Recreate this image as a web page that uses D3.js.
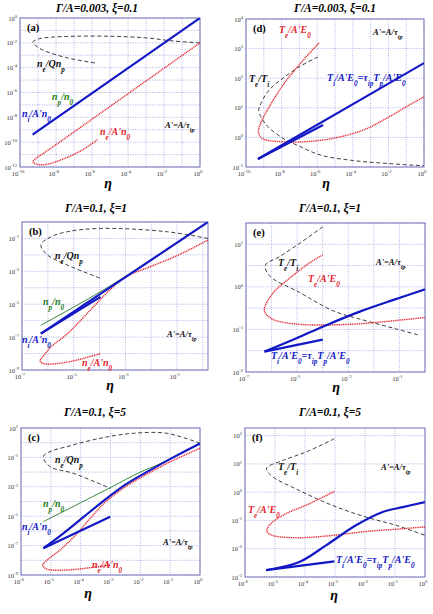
<!DOCTYPE html>
<html><head><meta charset="utf-8">
<script src="https://cdn.jsdelivr.net/npm/d3@7"></script>
<style>
body{margin:0;background:#fff}
svg{font-family:"Liberation Serif","DejaVu Serif",serif}
</style></head><body><div id="fig"></div>
<script>
const width = 433, height = 614;

// all curves: [log10(eta), log10(quantity)]
// (a)  Gamma/A=0.003, xi=0.1
const aNi   = [[-9.3,-9.4],[0,0]];
const aNe   = [[0,-2.0],[-2,-4.05],[-4,-6.1],[-6,-8.15],[-8,-10.2],[-8.8,-11.0],[-9.15,-11.35],[-9.28,-11.6],[-9.05,-11.78],[-8.5,-11.78],[-7.5,-11.3],[-6.5,-10.6],[-5.7,-9.8]];
const aNeQ  = [[0,-2.0],[-1.5,-1.85],[-3,-1.6],[-5,-1.47],[-7,-1.47],[-8.3,-1.55],[-9.0,-1.7],[-9.28,-1.95],[-9.1,-2.25],[-8.7,-2.6],[-7.4,-3.2],[-5.7,-3.65]];
// (d)
const dTi   = [[-9.33,-0.73],[0,2.51]];
const dTiS  = [[-9.33,-0.73],[-5.67,0.42]];
const dTe   = [[-5.9,3.19],[-7.02,2.45],[-7.92,1.77],[-8.7,1.03],[-9.16,0.5],[-9.3,0.2],[-9.1,-0.03],[-7.92,-0.15],[-6.8,-0.15],[-5.1,-0.03],[-3.4,0.25],[-1.97,0.69],[-0.84,1.09],[0,1.37]];
const dTeTi = [[-5.96,2.72],[-7.02,2.38],[-7.92,2.0],[-8.7,1.6],[-9.16,1.15],[-9.28,0.9],[-8.9,0.45],[-8.0,0.0],[-7.0,-0.3],[-5.8,-0.6],[-4.0,-0.78],[-2.08,-0.88],[-0.2,-0.95],[0,-0.95]];
// (b)  Gamma/A=0.1, xi=1
const bNi   = [[-6.27,-6.79],[0.2,0]];
const bNiS  = [[-6.27,-6.79],[-3.96,-4.55]];
const bNp   = [[-6.27,-6.28],[-3.6,-3.9],[0.2,0]];
const bNe   = [[0.2,-1.1],[-1,-2.05],[-2.04,-2.72],[-3.0,-3.34],[-3.58,-4.1],[-4.6,-5.77],[-5.24,-6.79],[-5.88,-7.6],[-6.2,-8.21],[-6.3,-8.45],[-6.14,-8.62],[-5.24,-8.52],[-3.96,-8.0]];
const bNeQ  = [[0.2,-1.0],[-1.4,-0.59],[-3.96,-0.39],[-5.24,-0.59],[-5.88,-0.9],[-6.27,-1.4],[-6.01,-2.01],[-5.24,-2.62],[-3.96,-3.43]];
// (e)
const eTi   = [[-6.28,-1.52],[-5,-1.2],[-3.86,-0.9],[-2.5,-0.57],[-1.2,-0.3],[0,-0.06]];
const eTiS  = [[-6.28,-1.52],[-4.0,-1.24]];
const eTe   = [[-4.0,0.75],[-4.52,0.56],[-5.3,0.2],[-5.95,-0.15],[-6.28,-0.56],[-5.95,-0.76],[-4.91,-0.88],[-2.95,-0.88],[-1.64,-0.82],[0,-0.72]];
const eTeTi = [[-4.0,1.41],[-4.91,1.02],[-5.69,0.71],[-6.24,0.51],[-6.08,0.26],[-4.91,-0.13],[-3.6,-0.56],[-2.29,-0.8],[-1.12,-0.99],[-0.2,-1.14]];
// (c)  Gamma/A=0.1, xi=5
const cNi   = [[-5.25,-7.18],[-4.6,-6.2],[-3.9,-5.05],[-3.2,-3.9],[-2.5,-2.85],[-1.7,-1.9],[-0.9,-1.0],[0,-0.05]];
const cNiS  = [[-5.25,-7.18],[-3.01,-5.03]];
const cNp   = [[-5.25,-5.37],[-3,-3.05],[-2,-2.0],[-1.3,-1.4],[0,-0.05]];
const cNe   = [[0,-0.38],[-0.9,-1.2],[-1.7,-2.05],[-2.5,-3.0],[-3.2,-4.1],[-3.7,-5.2],[-4.2,-6.35],[-4.69,-7.3],[-5.1,-7.95],[-5.27,-8.32],[-5.14,-8.59],[-4.47,-8.66],[-3.01,-8.32]];
const cNeQ  = [[0,-0.04],[-1.11,0.64],[-2.23,0.64],[-3.35,0.3],[-4.47,-0.27],[-5.03,-0.61],[-5.25,-0.95],[-5.03,-1.63],[-4.25,-2.08],[-3.01,-3.1]];
// (f)
const fTi   = [[-5.3,-2.76],[-4.19,-2.47],[-3.3,-1.88],[-2.3,-1.17],[-1.41,-0.7],[-0.74,-0.53],[0,-0.35]];
const fTiS  = [[-5.3,-2.76],[-3.02,-2.45]];
const fTe   = [[-3.02,0.03],[-3.86,-0.41],[-4.74,-0.82],[-5.19,-1.17],[-5.27,-1.39],[-5.08,-1.53],[-4.19,-1.61],[-3.08,-1.53],[-1.97,-1.39],[-0.97,-1.31],[0,-1.23]];
const fTeTi = [[-3.02,1.89],[-3.97,1.42],[-4.74,1.12],[-5.28,0.85],[-5.13,0.59],[-4.19,0.06],[-3.08,-0.47],[-1.97,-0.88],[-0.97,-1.17],[0,-1.53]];

// tick exponents
const aXLab = [-10,-8,-6,-4,-2,0], aYLab = [-12,-10,-8,-6,-4,-2,0];
const dYLab = [-1,0,1,2,3,4];
const bXLab = [-7,-5,-3,-1], bYLab = [-9,-7,-5,-3,-1];
const eYLab = [-2,-1,0,1];
const cXLab = [-6,-5,-4,-3,-2,-1,0], cYLab = [-9,-7,-5,-3,-1,1];
const fYLab = [-3,-2,-1,0,1,2];

const titles = ["\u0393/A=0.003, \u03be=0.1", "\u0393/A=0.1, \u03be=1", "\u0393/A=0.1, \u03be=5"];

const col = {blue:"#1218c4", red:"#e3262e", green:"#237a23", black:"#111"};
const styles = {
  blue:  {stroke:col.blue, w:2.2},
  red:   {stroke:col.red, w:1.4, dash:"1.1,0.7"},
  green: {stroke:col.green, w:0.9},
  dash:  {stroke:col.black, w:0.8, dash:"4,2.6"}
};

const panels = [
  {tag:"(a)", box:[20,200,18,167], x:[-10,0], y:[-12,0], xLab:aXLab, yLab:aYLab, xStep:1, yStep:1, title:titles[0], tx:97, ty:12, ex:108, ey:188,
   curves:[[aNeQ,"dash"],[aNe,"red"],[aNi,"blue"]],
   labels:[["n_{e}/Qn_{p}",37,67,"black",10],["n_{p}/n_{0}",52,100,"green",10],["n_{i}/A'n_{0}",22,117,"blue",10],["n_{e}/A'n_{0}",100,135,"red",10],["A'=A/\u03c4_{ip}",165,128,"black",8.5]]},
  {tag:"(d)", box:[246,424,19,167], x:[-10,0], y:[-1,4], xLab:aXLab, yLab:dYLab, xStep:1, yStep:1, title:titles[0], tx:335, ty:12, ex:326, ey:188,
   curves:[[dTeTi,"dash"],[dTe,"red"],[dTiS,"blue"],[dTi,"blue"]],
   labels:[["T_{e}/A'E_{0}",279,33,"red",10],["T_{e}/T_{i}",249,82,"black",10],["T_{i}/A'E_{0}=\u03c4_{ip}T_{p}/A'E_{0}",327,81,"blue",10],["A'=A/\u03c4_{ip}",373,35,"black",8.5]]},
  {tag:"(b)", box:[22,208,222,370], x:[-7,0.2], y:[-9,0], xLab:bXLab, yLab:bYLab, xStep:1, yStep:1, title:titles[1], tx:96, ty:212, ex:110, ey:390,
   curves:[[bNeQ,"dash"],[bNe,"red"],[bNp,"green"],[bNiS,"blue"],[bNi,"blue"]],
   labels:[["n_{e}/Qn_{p}",55,259,"black",10],["n_{p}/n_{0}",43,305,"green",10],["n_{i}/A'n_{0}",22,343,"blue",10],["n_{e}/A'n_{0}",82,366,"red",10],["A'=A/\u03c4_{ip}",167,337,"black",8.5]]},
  {tag:"(e)", box:[246,425,223,372], x:[-7,0], y:[-2,1.5], xLab:bXLab, yLab:eYLab, xStep:1, yStep:0.5, title:titles[1], tx:330, ty:212, ex:336, ey:392,
   curves:[[eTeTi,"dash"],[eTe,"red"],[eTiS,"blue"],[eTi,"blue"]],
   labels:[["T_{e}/T_{i}",278,266,"black",10],["T_{e}/A'E_{0}",308,282,"red",10],["A'=A/\u03c4_{ip}",376,265,"black",8.5],["T_{i}/A'E_{0}=\u03c4_{ip}T_{p}/A'E_{0}",271,359,"blue",10]]},
  {tag:"(c)", box:[21,200,428,575], x:[-6,0], y:[-9,1], xLab:cXLab, yLab:cYLab, xStep:1, yStep:1, title:titles[2], tx:95, ty:416, ex:88, ey:598,
   curves:[[cNeQ,"dash"],[cNe,"red"],[cNp,"green"],[cNiS,"blue"],[cNi,"blue"]],
   labels:[["n_{e}/Qn_{p}",55,463,"black",10],["n_{p}/n_{0}",43,507,"green",10],["n_{i}/A'n_{0}",22,530,"blue",10],["n_{e}/A'n_{0}",92,568,"red",10],["A'=A/\u03c4_{ip}",163,545,"black",8.5]]},
  {tag:"(f)", box:[245,425,428,577], x:[-6,0], y:[-3,2.27], xLab:cXLab, yLab:fYLab, xStep:1, yStep:1, title:titles[2], tx:330, ty:416, ex:334, ey:600,
   curves:[[fTeTi,"dash"],[fTe,"red"],[fTiS,"blue"],[fTi,"blue"]],
   labels:[["T_{e}/T_{i}",278,470,"black",10],["A'=A/\u03c4_{ip}",381,470,"black",8.5],["T_{e}/A'E_{0}",248,513,"red",10],["T_{i}/A'E_{0}=\u03c4_{ip}T_{p}/A'E_{0}",336,563,"blue",10]]}
];

const svg = d3.select("#fig").append("svg")
  .attr("width", width).attr("height", height)
  .attr("viewBox", [0, 0, width, height]);

// text with _{sub} and ^{sup}
function rich(sel, str, fs) {
  const re = /([_^])\{([^}]*)\}/g;
  let last = 0, m, cur = 0;
  const add = (s, off) => {
    sel.append("tspan").attr("dy", off - cur)
      .attr("font-size", off === 0 ? fs : fs * 0.72).text(s);
    cur = off;
  };
  while ((m = re.exec(str))) {
    if (m.index > last) add(str.slice(last, m.index), 0);
    add(m[2], m[1] === "_" ? fs * 0.45 : -fs * 0.42);
    last = re.lastIndex;
  }
  if (last < str.length) add(str.slice(last), 0);
}

panels.forEach((p, i) => {
  const [l, r, t, b] = p.box;
  const xS = d3.scaleLog().domain([10 ** p.x[0], 10 ** p.x[1]]).range([l, r]);
  const yS = d3.scaleLog().domain([10 ** p.y[0], 10 ** p.y[1]]).range([b, t]);
  const g = svg.append("g");

  g.append("clipPath").attr("id", "clip" + i)
    .append("rect").attr("x", l).attr("y", t).attr("width", r - l).attr("height", b - t);

  // grid
  const xg = d3.range(Math.ceil(p.x[0]), p.x[1] + 1e-9, p.xStep);
  const yg = d3.range(Math.ceil(p.y[0] / p.yStep) * p.yStep, p.y[1] + 1e-9, p.yStep);
  g.append("g").selectAll("line").data(xg).join("line")
    .attr("x1", d => xS(10 ** d)).attr("x2", d => xS(10 ** d))
    .attr("y1", t).attr("y2", b)
    .attr("stroke", "#8e8ee0").attr("stroke-width", 0.7).attr("stroke-dasharray", "1,1.4");
  g.append("g").selectAll("line").data(yg).join("line")
    .attr("y1", d => yS(10 ** d)).attr("y2", d => yS(10 ** d))
    .attr("x1", l).attr("x2", r)
    .attr("stroke", "#8e8ee0").attr("stroke-width", 0.7).attr("stroke-dasharray", "1,1.4");

  // frame
  g.append("rect").attr("x", l).attr("y", t).attr("width", r - l).attr("height", b - t)
    .attr("fill", "none").attr("stroke", "#7474bc").attr("stroke-width", 1);

  // tick labels
  g.append("g").selectAll("text").data(p.xLab).join("text")
    .attr("x", d => xS(10 ** d) - 2).attr("y", b + 9)
    .attr("text-anchor", "middle").attr("fill", "#333")
    .each(function(d) { rich(d3.select(this), "10^{" + d + "}", 6.5); });
  g.append("g").selectAll("text").data(p.yLab).join("text")
    .attr("x", l - 3).attr("y", d => yS(10 ** d) + 2.5)
    .attr("text-anchor", "end").attr("fill", "#333")
    .each(function(d) { rich(d3.select(this), "10^{" + d + "}", 6.5); });

  // curves
  const line = d3.line()
    .x(d => xS(10 ** d[0])).y(d => yS(10 ** d[1]))
    .curve(d3.curveCatmullRom.alpha(0.5));
  const cg = g.append("g").attr("clip-path", `url(#clip${i})`);
  p.curves.forEach(([pts, s]) => {
    const st = styles[s];
    cg.append("path").attr("d", line(pts)).attr("fill", "none")
      .attr("stroke", st.stroke).attr("stroke-width", st.w)
      .attr("stroke-dasharray", st.dash || null)
      .attr("stroke-linecap", "butt");
  });

  // labels
  p.labels.forEach(([txt, x, y, c, fs]) => {
    const tx = g.append("text").attr("x", x).attr("y", y)
      .attr("fill", col[c]).attr("font-weight", "bold").attr("font-style", "italic");
    rich(tx, txt, fs);
  });

  g.append("text").attr("x", l + 7).attr("y", t + 13)
    .attr("font-weight", "bold").attr("font-size", 10.5).text(p.tag);

  g.append("text").attr("x", p.tx).attr("y", p.ty).attr("text-anchor", "middle")
    .attr("font-weight", "bold").attr("font-style", "italic").attr("font-size", 11.5)
    .text(p.title);

  g.append("text").attr("x", p.ex).attr("y", p.ey).attr("text-anchor", "middle")
    .attr("font-weight", "bold").attr("font-style", "italic").attr("font-size", 14)
    .text("\u03b7");
});
</script></body></html>
